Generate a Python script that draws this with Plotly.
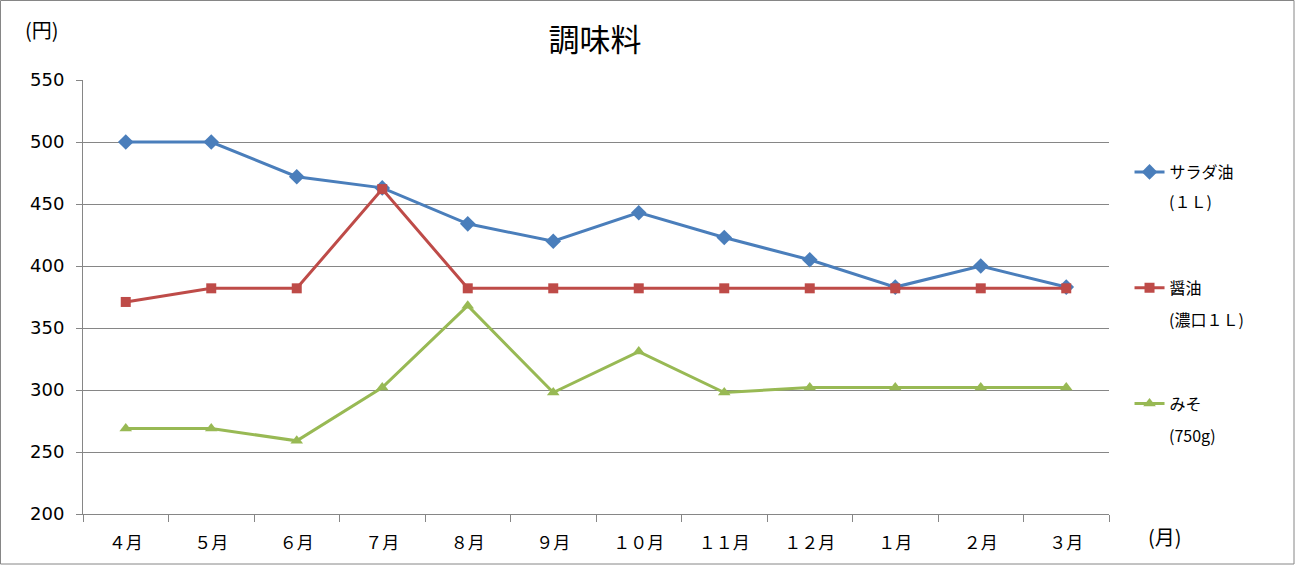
import plotly.graph_objects as go

months = ["４月", "５月", "６月", "７月", "８月", "９月", "１０月", "１１月", "１２月", "１月", "２月", "３月"]
salad_oil = [500, 500, 472, 463, 434, 420, 443, 423, 405, 383, 400, 383]
soy_sauce = [371, 382, 382, 462, 382, 382, 382, 382, 382, 382, 382, 382]
miso = [269, 269, 259, 302, 368, 298, 331, 298, 302, 302, 302, 302]

names = ["サラダ油", "醤油", "みそ"]
units = ["(１Ｌ)", "(濃口１Ｌ)", "(750g)"]
colors = ["#4A7EBB", "#BE4B48", "#98B954"]
symbols = ["diamond", "square", "triangle-up"]
sizes = [12, 10, 11]

font = "DejaVu Sans, Noto Sans CJK JP"
jp = "Noto Sans CJK JP"

fig = go.Figure()
for i, vals in enumerate([salad_oil, soy_sauce, miso]):
    fig.add_trace(go.Scatter(
        x=months, y=vals, name=names[i], mode="lines+markers",
        legendgroup=str(i),
        line=dict(color=colors[i], width=3),
        marker=dict(symbol=symbols[i], size=sizes[i], color=colors[i]),
    ))

fig.update_layout(
    width=1295, height=565,
    margin=dict(l=83, r=186, t=80, b=51),
    paper_bgcolor="white", plot_bgcolor="white",
    font=dict(family=font, size=16, color="#000000"),
    title=dict(text="調味料", x=595 / 1295, xanchor="center", y=1 - 40 / 565,
               yanchor="middle", font=dict(family=jp, size=31)),
    showlegend=True,
    legend=dict(x=1.02, xref="paper", y=1 - (172 - 80 - 17) / 434, yanchor="top",
                traceorder="grouped", tracegroupgap=92,
                font=dict(family=jp, size=16), itemwidth=30,
                bgcolor="rgba(0,0,0,0)"),
    xaxis=dict(
        range=[-0.5, 11.5],
        showgrid=False, showline=True, linecolor="#868686", linewidth=1,
        ticks="outside", tickson="boundaries", ticklen=7, tickcolor="#868686",
        tickfont=dict(family=jp, size=17), ticklabelstandoff=14,
        fixedrange=True,
    ),
    yaxis=dict(
        range=[200, 550], dtick=50, tick0=200,
        showgrid=True, gridcolor="#868686", gridwidth=1,
        showline=True, linecolor="#868686", linewidth=1,
        ticks="outside", ticklen=6, tickcolor="#868686",
        tickfont=dict(size=18), ticklabelstandoff=8, zeroline=False,
    ),
)

# second line of each legend entry
for txt, ypix in zip(units, [201, 319, 435]):
    fig.add_annotation(text=txt, xref="paper", yref="paper", x=(1167 - 83) / 1026,
                       y=(514 - ypix) / 434, xanchor="left", yanchor="middle",
                       showarrow=False, font=dict(family=jp, size=16))

fig.add_annotation(text="(円)", xref="paper", yref="paper", x=(42 - 83) / 1026,
                   y=(514 - 30) / 434, xanchor="center", yanchor="middle",
                   showarrow=False, font=dict(family=jp, size=20))
fig.add_annotation(text="(月)", xref="paper", yref="paper", x=(1165 - 83) / 1026,
                   y=(514 - 536) / 434, xanchor="center", yanchor="middle",
                   showarrow=False, font=dict(family=jp, size=20))
fig.add_shape(type="rect", xref="paper", yref="paper",
              x0=-82.5 / 1026, x1=1 + 185 / 1026, y0=-50 / 434, y1=1 + 79.5 / 434,
              line=dict(color="#868686", width=1))

fig.write_html("out.html", config={"displayModeBar": False},
               post_script="document.body.style.margin='0';")
